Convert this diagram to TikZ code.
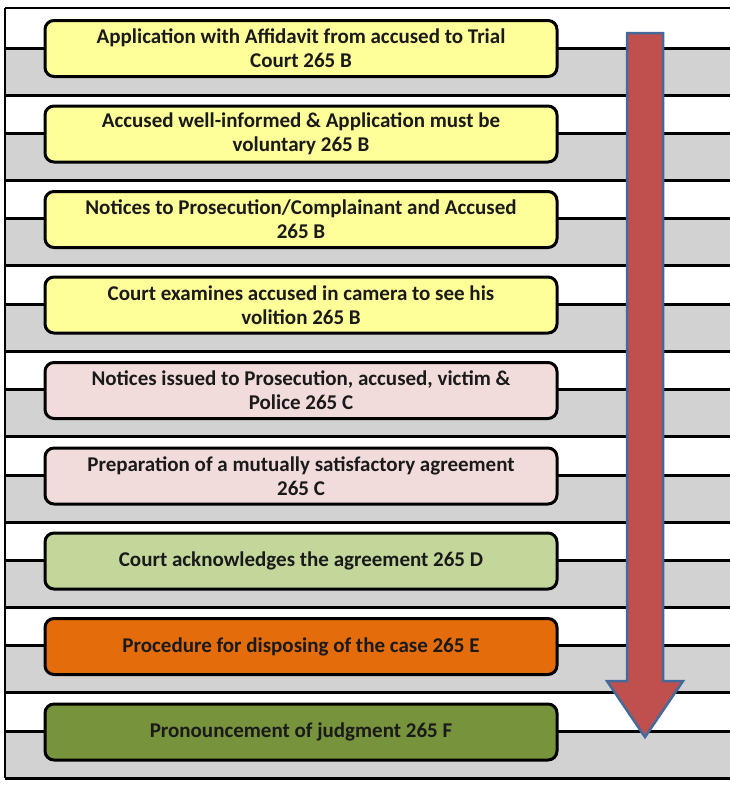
\documentclass[tikz,border=0pt]{standalone}
\usepackage{fontspec}
\setmainfont{Carlito}
\definecolor{boxyellow}{HTML}{FFFF99}
\definecolor{boxpink}{HTML}{F2DCDB}
\definecolor{boxlgreen}{HTML}{C4D79B}
\definecolor{boxorange}{HTML}{E46C0A}
\definecolor{boxolive}{HTML}{77933C}
\definecolor{bandgray}{HTML}{D2D2D2}
\definecolor{arrowred}{HTML}{C0504D}
\definecolor{arrowblue}{HTML}{44699B}
\definecolor{txt}{HTML}{1A1A1A}
\begin{document}
\begin{tikzpicture}[x=1pt,y=-1pt,
  stepbox/.style={draw=black, line width=3pt, rounded corners=9pt,
    minimum width=512pt, minimum height=56pt, align=center,
    font=\bfseries\fontsize{21}{24}\selectfont, text=txt, inner sep=1pt},
  bandline/.style={line width=3pt, black}]
\useasboundingbox (0,0) rectangle (730,787);
\fill[white] (0,0) rectangle (730,787);
\foreach \i in {0,...,8} {
  \pgfmathsetmacro\c{48+85.4*\i}
  \fill[bandgray] (5,\c) rectangle (730,\c+47);
  \draw[bandline] (5,\c) -- (730,\c);
  \draw[bandline] (5,\c+47) -- (730,\c+47);
}
\draw[line width=1.5pt] (5,8) -- (730,8);
\draw[line width=2pt] (5,8) -- (5,778);

\node[stepbox, fill=boxyellow] (s1) at (301,48.5) {Application with Affidavit from accused to Trial\\Court 265 B};
\node[stepbox, fill=boxyellow] (s2) at (301,134) {Accused well-informed \& Application must be\\voluntary 265 B};
\node[stepbox, fill=boxyellow] (s3) at (301,219.5) {Notices to Prosecution/Complainant and Accused\\265 B};
\node[stepbox, fill=boxyellow] (s4) at (301,305) {Court examines accused in camera to see his\\volition 265 B};
\node[stepbox, fill=boxpink] (s5) at (301,390.5) {Notices issued to Prosecution, accused, victim \&\\Police 265 C};
\node[stepbox, fill=boxpink] (s6) at (301,476) {Preparation of a mutually satisfactory agreement\\265 C};
\node[stepbox, fill=boxlgreen] (s7) at (301,561) {Court acknowledges the agreement 265 D};
\node[stepbox, fill=boxorange] (s8) at (301,646.5) {Procedure for disposing of the case 265 E};
\node[stepbox, fill=boxolive] (s9) at (301,732) {Pronouncement of judgment 265 F};

\draw[fill=arrowred, draw=arrowblue, line width=2.5pt, line join=miter]
  (627,33) -- (663,33) -- (663,681) -- (683,681) -- (645,737) -- (607,681) -- (627,681) -- cycle;
\end{tikzpicture}
\end{document}
